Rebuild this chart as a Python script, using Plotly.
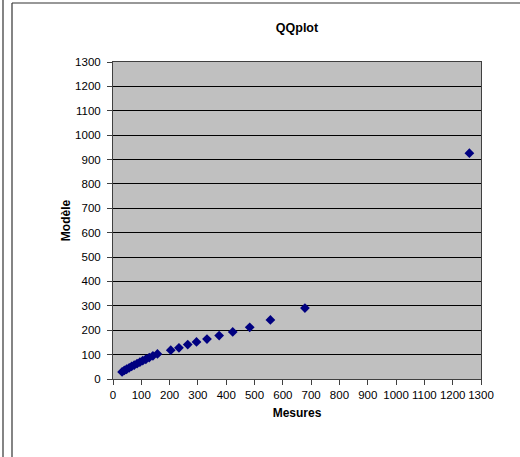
import plotly.graph_objects as go

# Data
mesures = [32, 40, 48, 57, 66, 75, 85, 95, 105, 116, 128, 141, 157,
           204, 233, 264, 295, 332, 375, 423, 483, 556, 678, 1259]
modele = [29, 35, 40, 46, 52, 57, 63, 69, 75, 81, 88, 95, 103,
          118, 128, 141, 152, 164, 178, 193, 212, 242, 291, 926]

x_ticks = list(range(0, 1301, 100))
y_ticks = list(range(0, 1301, 100))

FONT = "Liberation Sans, Arial, sans-serif"

fig = go.Figure()
fig.add_trace(go.Scatter(
    x=mesures, y=modele, mode="markers",
    marker=dict(symbol="diamond", size=7.5, color="#000080",
                line=dict(width=0)),
    showlegend=False, hoverinfo="x+y"))

# plot area in pixels: x 113..481, y 62..379
L, R, T, B = 113, 481, 62, 379
W, H = 520, 457


def px(x):
    return (x - L) / (R - L)


def py(y):
    return (B - y) / (B - T)


shapes = [
    # outer chart frame (extends beyond right/bottom)
    dict(type="line", xref="paper", yref="paper", x0=px(12), x1=px(12),
         y0=py(3), y1=py(460), line=dict(color="#333333", width=1.2)),
    dict(type="line", xref="paper", yref="paper", x0=px(12), x1=px(522),
         y0=py(3), y1=py(3), line=dict(color="#333333", width=1.2)),
    # left neighbouring frame
    dict(type="line", xref="paper", yref="paper", x0=px(3), x1=px(3),
         y0=py(-2), y1=py(460), line=dict(color="#333333", width=1.2)),
]

fig.update_layout(
    width=W, height=H,
    margin=dict(l=L, r=W - R, t=T, b=H - B, pad=0),
    paper_bgcolor="white",
    plot_bgcolor="#C0C0C0",
    font=dict(family=FONT, size=11, color="black"),
    title=dict(text="<b>QQplot</b>", x=(L + R) / 2 / W, xanchor="center",
               y=1 - 28 / H, yanchor="middle",
               font=dict(family=FONT, size=12.5, color="black")),
    shapes=shapes,
    xaxis=dict(
        range=[0, 1300], tickmode="array", tickvals=x_ticks,
        ticktext=[str(v) for v in x_ticks],
        showgrid=False, zeroline=False,
        showline=True, linecolor="#404040", linewidth=1, mirror=True,
        ticks="outside", ticklen=5, tickcolor="#404040",
        tickfont=dict(family=FONT, size=11.5),
        title=dict(text="<b>Mesures</b>", standoff=8,
                   font=dict(family=FONT, size=12)),
        fixedrange=True,
    ),
    yaxis=dict(
        range=[0, 1300], tickmode="array", tickvals=y_ticks,
        ticktext=[str(v) for v in y_ticks],
        showgrid=True, gridcolor="black", gridwidth=1, zeroline=False,
        showline=True, linecolor="#404040", linewidth=1, mirror=True,
        ticks="outside", ticklen=5, tickcolor="#404040",
        ticklabelstandoff=4,
        tickfont=dict(family=FONT, size=11.5),
        title=dict(text="<b>Modèle</b>", standoff=1,
                   font=dict(family=FONT, size=12)),
        fixedrange=True,
    ),
)

fig.write_html("out.html", include_plotlyjs=True)
